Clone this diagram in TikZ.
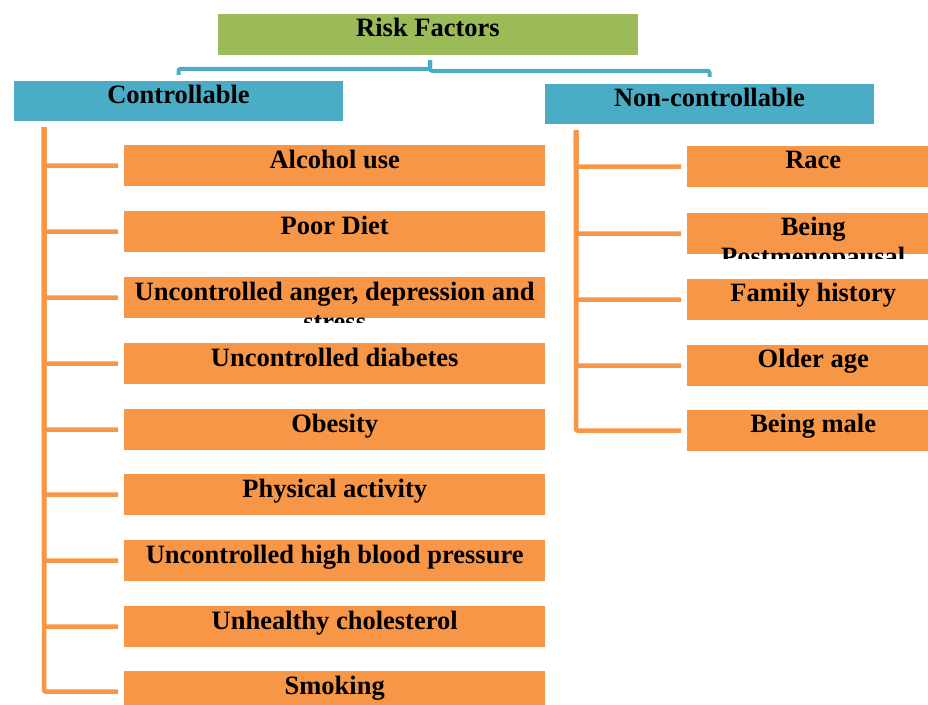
\documentclass[tikz,border=0pt]{standalone}
\usepackage{fontspec}
\setmainfont{Liberation Serif}
\definecolor{rootgreen}{HTML}{9BBB59}
\definecolor{catblue}{HTML}{4BACC6}
\definecolor{itemorange}{HTML}{F79646}
\hyphenpenalty=10000
\exhyphenpenalty=10000
\begin{document}
\begin{tikzpicture}[x=1pt,y=-1pt,
  boxfont/.style={font=\fontsize{26.5}{30}\selectfont\bfseries},
  rootbox/.style={rectangle,fill=rootgreen,inner sep=0,minimum width=420pt,minimum height=41pt},
  catbox/.style={rectangle,fill=catblue,inner sep=0,minimum width=329pt,minimum height=40pt},
  itembox/.style={rectangle,fill=itemorange,inner sep=0,minimum height=41pt,anchor=north west},
  boxlabel/.style={boxfont,anchor=base,inner sep=0,align=flush center,text=black},
  blueline/.style={draw=catblue,line width=4pt,rounded corners=2pt},
  branch/.style={draw=itemorange,line width=4.5pt,shorten >=6pt,rounded corners=2pt}]
  \clip (0,0) rectangle (928,704);

  % top of the tree
  \node[rootbox] (root) at (428,34.5) {};
  \node[boxlabel] (rootlbl) at ([yshift=-22.5pt]root.north) {Risk Factors};

  % the two groups
  \node[catbox] (ctrl) at (178.5,101) {};
  \node[boxlabel] (ctrllbl) at ([yshift=-22.5pt]ctrl.north) {Controllable};
  \node[catbox] (nonctrl) at (709.5,104) {};
  \node[boxlabel] (nonctrllbl) at ([yshift=-22.5pt]nonctrl.north) {Non-controllable};

  % bracket joining the root to the groups
  \coordinate (rb) at (430,60);
  \draw[blueline] (rb) |- ([yshift=12pt]ctrl.north) -- ([yshift=6pt]ctrl.north);
  \draw[blueline] (rb) |- ([yshift=13pt]nonctrl.north) -- ([yshift=7pt]nonctrl.north);

  % spine tops
  \coordinate (lsp) at (44,127);
  \coordinate (rsp) at (576,130);

  % controllable factors
  \foreach \name/\yt/\txt in {
      c1/145/Alcohol use,
      c2/211/Poor Diet,
      c3/277/{Uncontrolled anger, depression and stress},
      c4/343/Uncontrolled diabetes,
      c5/409/Obesity,
      c6/474/Physical activity,
      c7/540/Uncontrolled high blood pressure,
      c8/606/Unhealthy cholesterol,
      c9/671/Smoking} {
    \node[itembox,minimum width=421pt] (\name) at (124,\yt) {};
    \begin{scope}
      \clip (\name.north west) rectangle ([yshift=-4pt]\name.south east);
      \node[boxlabel,text width=421pt] (\name lbl) at ([yshift=-23pt]\name.north) {\txt};
    \end{scope}
    \draw[branch] (lsp) |- (\name.west);
  }

  % non-controllable factors
  \foreach \name/\yt/\txt in {
      n1/146/Race,
      n2/213/Being Postmenopausal,
      n3/279/Family history,
      n4/345/Older age,
      n5/410/Being male} {
    \node[itembox,minimum width=252pt] (\name) at (687,\yt) {};
    \begin{scope}
      \clip (\name.north west) rectangle ([yshift=-4pt]\name.south east);
      \node[boxlabel,text width=240pt] (\name lbl) at ([yshift=-22pt]\name.north) {\txt};
    \end{scope}
    \draw[branch] (rsp) |- (\name.west);
  }
\end{tikzpicture}
\end{document}
